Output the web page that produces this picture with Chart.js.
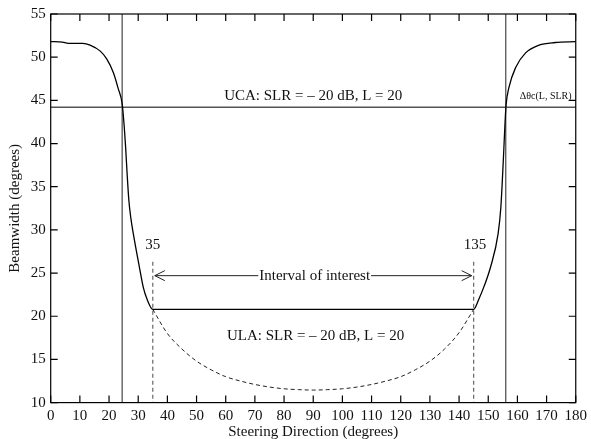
<!DOCTYPE html>
<html>
<head>
<meta charset="utf-8">
<script src="https://cdn.jsdelivr.net/npm/chart.js@4.4.0/dist/chart.umd.min.js"></script>
<style>
html, body { margin: 0; padding: 0; background: #fff; }
#wrap { width: 591px; height: 439px; }
</style>
</head>
<body>
<div id="wrap"><canvas id="beamChart"></canvas></div>
<script>
// curva continua (UCA + ULA dentro del intervalo)
const steerDeg = [0, 4, 6, 11, 13.5, 17, 19.2, 21.5, 23.2, 24.5, 25.2, 25.7, 26.2, 26.8, 27.5, 28.3, 30.4, 31.7, 33.1, 35,
                  145, 146.8, 148.5, 150.8, 153.4, 154.3, 154.8, 155.3, 155.7, 156.1, 157.1, 159.4, 162.8, 167.4, 173, 180];
const beamSolid = [51.8, 51.75, 51.6, 51.6, 51.4, 50.7, 49.8, 48.2, 46.3, 44.6, 42.0, 39.5, 36.5, 33.4, 31.3, 29.6, 25.7, 23.4, 21.9, 20.8,
                   20.8, 22.0, 23.4, 25.7, 29.6, 32.5, 35.5, 39.0, 42.0, 44.4, 46.5, 48.8, 50.5, 51.4, 51.7, 51.8];

// curva punteada ULA
const ulaDeg = [35, 40, 45, 50, 55, 60, 65, 70, 75, 80, 85, 90, 95, 100, 105, 110, 115, 120, 125, 130, 135, 140, 145];
const beamUla = [20.8, 18.0, 16.2, 14.8, 13.8, 13.0, 12.5, 12.1, 11.8, 11.6, 11.5, 11.45, 11.5, 11.6, 11.8, 12.1, 12.5, 13.0, 13.8, 14.8, 16.2, 18.1, 20.8];

const xTicks = [0, 10, 20, 30, 40, 50, 60, 70, 80, 90, 100, 110, 120, 130, 140, 150, 160, 170, 180];
const yTicks = [10, 15, 20, 25, 30, 35, 40, 45, 50, 55];

// lineas de referencia
const ucaLevel = 44.2;
const crossDeg = [24.5, 156];
const intervalDeg = [35, 145];
const intervalLabels = ['35', '135'];
const intervalTop = 26.3;
const arrowLevel = 24.7;

const serif = "'Liberation Serif', 'Times New Roman', serif";
const ink = '#111';

function toPts(xs, ys) {
    return xs.map((x, i) => ({ x: x, y: ys[i] }));
}

// Dibuja marco, ticks hacia adentro, lineas de referencia y textos
const decorPlugin = {
    id: 'decor',
    beforeDatasetsDraw(chart) {
        const ctx = chart.ctx, x = chart.scales.x, y = chart.scales.y;
        const a = chart.chartArea;
        ctx.save();
        ctx.strokeStyle = '#555';
        ctx.lineWidth = 1.3;
        ctx.beginPath();
        // horizontal UCA
        ctx.moveTo(a.left, y.getPixelForValue(ucaLevel));
        ctx.lineTo(a.right, y.getPixelForValue(ucaLevel));
        // verticales de cruce
        crossDeg.forEach(d => {
            ctx.moveTo(x.getPixelForValue(d), a.top);
            ctx.lineTo(x.getPixelForValue(d), a.bottom);
        });
        ctx.stroke();

        // verticales punteadas del intervalo
        ctx.strokeStyle = '#666';
        ctx.lineWidth = 1.2;
        ctx.setLineDash([4, 3]);
        ctx.beginPath();
        intervalDeg.forEach(d => {
            ctx.moveTo(x.getPixelForValue(d), y.getPixelForValue(intervalTop));
            ctx.lineTo(x.getPixelForValue(d), a.bottom);
        });
        ctx.stroke();
        ctx.restore();
    },
    afterDraw(chart) {
        const ctx = chart.ctx, x = chart.scales.x, y = chart.scales.y;
        const a = chart.chartArea;
        ctx.save();

        // marco
        ctx.strokeStyle = '#000';
        ctx.lineWidth = 1.2;
        ctx.strokeRect(a.left, a.top, a.right - a.left, a.bottom - a.top);

        // ticks hacia adentro en los cuatro lados
        const tl = 7;
        ctx.beginPath();
        xTicks.forEach(v => {
            const px = x.getPixelForValue(v);
            ctx.moveTo(px, a.bottom); ctx.lineTo(px, a.bottom - tl);
            ctx.moveTo(px, a.top); ctx.lineTo(px, a.top + tl);
        });
        yTicks.forEach(v => {
            const py = y.getPixelForValue(v);
            ctx.moveTo(a.left, py); ctx.lineTo(a.left + tl, py);
            ctx.moveTo(a.right, py); ctx.lineTo(a.right - tl, py);
        });
        ctx.stroke();

        // flecha "Interval of interest"
        const ay = y.getPixelForValue(arrowLevel);
        const x1 = x.getPixelForValue(intervalDeg[0]) + 2;
        const x2 = x.getPixelForValue(intervalDeg[1]) - 2;
        const midX = x.getPixelForValue(90.5);
        ctx.font = '15px ' + serif;
        ctx.fillStyle = ink;
        ctx.textAlign = 'center';
        ctx.textBaseline = 'middle';
        const label = 'Interval of interest';
        const half = ctx.measureText(label).width / 2;
        ctx.strokeStyle = '#222';
        ctx.lineWidth = 1;
        ctx.beginPath();
        ctx.moveTo(x1, ay); ctx.lineTo(midX - half - 1, ay);
        ctx.moveTo(midX + half + 1, ay); ctx.lineTo(x2, ay);
        // puntas abiertas
        ctx.moveTo(x1 + 10, ay - 5); ctx.lineTo(x1, ay); ctx.lineTo(x1 + 10, ay + 5);
        ctx.moveTo(x2 - 10, ay - 5); ctx.lineTo(x2, ay); ctx.lineTo(x2 - 10, ay + 5);
        ctx.stroke();
        ctx.fillText(label, midX, ay);

        // textos
        ctx.fillText('UCA: SLR = \u2013 20 dB, L = 20', x.getPixelForValue(90), y.getPixelForValue(45.5));
        ctx.fillText('ULA: SLR = \u2013 20 dB, L = 20', x.getPixelForValue(90.8), y.getPixelForValue(17.65));
        ctx.fillText(intervalLabels[0], x.getPixelForValue(35), y.getPixelForValue(28.2));
        ctx.fillText(intervalLabels[1], x.getPixelForValue(145.5), y.getPixelForValue(28.2));
        ctx.font = '10px ' + serif;
        ctx.fillText('\u0394\u03b8c(L, SLR)', x.getPixelForValue(169.7), y.getPixelForValue(45.5));
        ctx.restore();
    }
};

new Chart(document.getElementById('beamChart'), {
    type: 'line',
    data: {
        datasets: [{
            data: toPts(steerDeg, beamSolid),
            borderColor: '#000',
            borderWidth: 1.3,
            pointRadius: 0,
            cubicInterpolationMode: 'monotone',
            fill: false
        }, {
            data: toPts(ulaDeg, beamUla),
            borderColor: '#222',
            borderWidth: 1,
            borderDash: [4, 3],
            pointRadius: 0,
            cubicInterpolationMode: 'monotone',
            fill: false
        }]
    },
    options: {
        responsive: true,
        maintainAspectRatio: false,
        animation: false,
        layout: { padding: { top: 13, right: 14, left: 0, bottom: 0 } },
        plugins: { legend: { display: false }, tooltip: { enabled: false } },
        scales: {
            x: {
                type: 'linear',
                min: 0, max: 180,
                afterBuildTicks: s => { s.ticks = xTicks.map(v => ({ value: v })); },
                afterFit: s => { s.height = 36.4; },
                grid: { display: false, drawTicks: false },
                border: { display: false },
                ticks: { color: ink, padding: 4, maxRotation: 0, autoSkip: false, font: { family: serif, size: 15 } },
                title: { display: true, text: 'Steering Direction (degrees)', color: ink, padding: { top: 0, bottom: -2 }, font: { family: serif, size: 15 } }
            },
            y: {
                min: 10, max: 55,
                afterBuildTicks: s => { s.ticks = yTicks.map(v => ({ value: v })); },
                afterFit: s => { s.width = 50.7; },
                grid: { display: false, drawTicks: false },
                border: { display: false },
                ticks: { color: ink, padding: 5, autoSkip: false, font: { family: serif, size: 15 } },
                title: { display: true, text: 'Beamwidth (degrees)', color: ink, padding: { top: 6, bottom: 0 }, font: { family: serif, size: 15 } }
            }
        }
    },
    plugins: [decorPlugin]
});
</script>
</body>
</html>
